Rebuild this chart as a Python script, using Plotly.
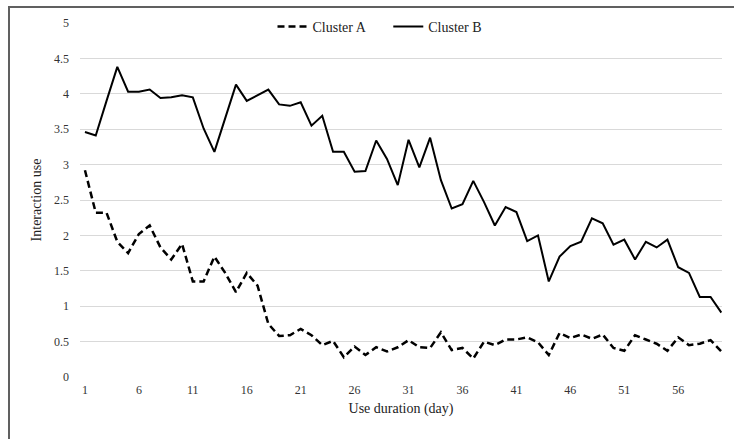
import plotly.graph_objects as go

days = list(range(1, 61))
cluster_a = [2.92, 2.32, 2.32, 1.91, 1.75, 2.02, 2.14, 1.83, 1.66, 1.88,
             1.35, 1.35, 1.70, 1.47, 1.20, 1.47, 1.29, 0.75, 0.58, 0.59,
             0.68, 0.59, 0.45, 0.51, 0.28, 0.43, 0.31, 0.42, 0.36, 0.42,
             0.52, 0.42, 0.41, 0.63, 0.38, 0.41, 0.26, 0.50, 0.45, 0.53,
             0.53, 0.56, 0.49, 0.31, 0.62, 0.55, 0.60, 0.54, 0.60, 0.41,
             0.37, 0.59, 0.53, 0.47, 0.37, 0.56, 0.45, 0.47, 0.52, 0.36]
cluster_b = [3.46, 3.41, 3.90, 4.38, 4.03, 4.03, 4.06, 3.94, 3.95, 3.98,
             3.95, 3.51, 3.18, 3.65, 4.13, 3.90, 3.98, 4.06, 3.85, 3.83,
             3.88, 3.55, 3.69, 3.18, 3.18, 2.90, 2.91, 3.34, 3.08, 2.71,
             3.35, 2.96, 3.38, 2.78, 2.38, 2.44, 2.77, 2.47, 2.14, 2.40,
             2.33, 1.92, 2.00, 1.35, 1.70, 1.85, 1.91, 2.24, 2.17, 1.87,
             1.94, 1.66, 1.91, 1.83, 1.94, 1.55, 1.47, 1.13, 1.13, 0.91]
x_ticks = list(range(1, 57, 5))
y_ticks = [0, 0.5, 1, 1.5, 2, 2.5, 3, 3.5, 4, 4.5, 5]

FF = "Liberation Serif"
NB = "\u00a0"

fig = go.Figure()
fig.add_trace(go.Scatter(x=days, y=cluster_a, mode="lines", name="Cluster A" + NB * 5,
                         line=dict(color="black", width=2.5, dash="7px,4px")))
fig.add_trace(go.Scatter(x=days, y=cluster_b, mode="lines", name="Cluster B",
                         line=dict(color="black", width=2)))

W, H = 734, 439
L, R, T, B = 80, 12, 23, 62
pw, ph = W - L - R, H - T - B

def px_to_paper_x(px):
    return (px - L) / pw

def px_to_paper_y(py):
    return (H - B - py) / ph

frame_line = dict(color="#606060", width=2)
fig.update_layout(
    width=W, height=H,
    margin=dict(l=L, r=R, t=T, b=B, autoexpand=False),
    paper_bgcolor="white", plot_bgcolor="white",
    font=dict(family=FF, size=12, color="#222"),
    showlegend=True,
    legend=dict(orientation="h", x=px_to_paper_x(380), xanchor="center",
                y=px_to_paper_y(27), yanchor="middle",
                bgcolor="rgba(0,0,0,0)", font=dict(family=FF, size=14, color="#222"),
                itemwidth=30, tracegroupgap=0),
    xaxis=dict(range=[0.54, 60.06], tickmode="array", tickvals=x_ticks,
               showgrid=False, zeroline=False, showline=False, ticks="",
               ticklabelstandoff=4,
               tickfont=dict(family=FF, size=12, color="#333"),
               title=dict(text="Use duration (day)", font=dict(family=FF, size=14, color="#222"),
                          standoff=7)),
    yaxis=dict(range=[0, 5], tickmode="array", tickvals=y_ticks,
               ticktext=[f"{v:g}" for v in y_ticks],
               showgrid=True, gridcolor="#d9d9d9", gridwidth=1,
               zeroline=False, showline=False, ticks="",
               ticklabelstandoff=10,
               tickfont=dict(family=FF, size=12, color="#333"),
               title=dict(text="Interaction use", font=dict(family=FF, size=14, color="#222"),
                          standoff=9)),
    shapes=[
        dict(type="line", xref="paper", yref="paper",
             x0=px_to_paper_x(8), x1=px_to_paper_x(734),
             y0=px_to_paper_y(7), y1=px_to_paper_y(7), line=frame_line, layer="above"),
        dict(type="line", xref="paper", yref="paper",
             x0=px_to_paper_x(9), x1=px_to_paper_x(9),
             y0=px_to_paper_y(6), y1=px_to_paper_y(439), line=frame_line, layer="above"),
    ],
)

fig.write_html("out.html", config={"displayModeBar": False},
               post_script="document.body.style.margin='0';document.body.style.overflow='hidden';")
